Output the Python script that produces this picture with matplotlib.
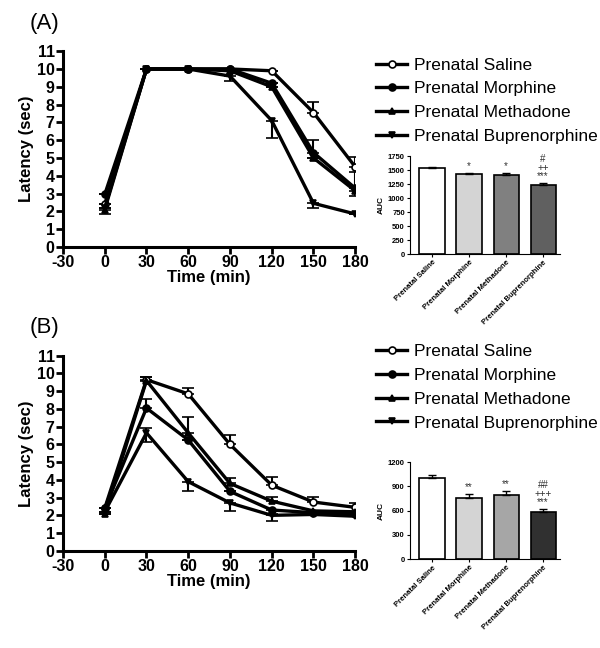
import matplotlib
matplotlib.use("Agg")
import matplotlib.pyplot as plt
import numpy as np

plt.rcParams['font.family'] = ['Liberation Sans', 'DejaVu Sans']
plt.rcParams['axes.unicode_minus'] = False

# time points (min)
times = [0, 30, 60, 90, 120, 150, 180]
groups = ['Prenatal Saline', 'Prenatal Morphine', 'Prenatal Methadone', 'Prenatal Buprenorphine']

# Panel A latency (sec)
a_saline = [2.4, 10.0, 10.0, 10.0, 9.9, 7.55, 4.5]
a_morphine = [2.95, 10.0, 10.0, 10.0, 9.2, 5.3, 3.3]
a_methadone = [2.1, 10.0, 10.0, 9.9, 9.0, 5.0, 3.15]
a_bup = [2.2, 10.0, 10.0, 9.6, 7.1, 2.45, 1.85]
# error bars (up / down)
a_up = {'Prenatal Saline': [0, 0, 0, 0, 0, 0.6, 0.55],
        'Prenatal Morphine': [0, 0, 0, 0, 0, 0.7, 0],
        'Prenatal Methadone': [0, 0, 0, 0, 0, 0, 1.05],
        'Prenatal Buprenorphine': [0, 0, 0, 0, 0, 0, 0]}
a_dn = {'Prenatal Saline': [0, 0, 0, 0, 0, 0, 0],
        'Prenatal Morphine': [0, 0, 0, 0, 0, 0, 0.45],
        'Prenatal Methadone': [0.25, 0, 0, 0, 0, 0, 0],
        'Prenatal Buprenorphine': [0, 0, 0, 0.3, 1.0, 0.25, 0]}

# Panel B latency (sec)
b_saline = [2.4, 9.65, 8.85, 6.0, 3.7, 2.75, 2.45]
b_morphine = [2.4, 8.05, 6.25, 3.35, 2.3, 2.15, 2.1]
b_methadone = [2.1, 9.6, 6.65, 3.8, 2.8, 2.25, 2.2]
b_bup = [2.2, 6.65, 3.9, 2.7, 2.0, 2.05, 1.95]
b_up = {'Prenatal Saline': [0, 0.15, 0.35, 0.55, 0.45, 0.3, 0.25],
        'Prenatal Morphine': [0, 0.5, 0, 0, 0, 0, 0],
        'Prenatal Methadone': [0, 0.2, 0.9, 0.3, 0.25, 0, 0],
        'Prenatal Buprenorphine': [0, 0.3, 0, 0, 0, 0, 0]}
b_dn = {'Prenatal Saline': [0, 0, 0, 0, 0, 0, 0],
        'Prenatal Morphine': [0, 0, 0, 0, 0.25, 0, 0],
        'Prenatal Methadone': [0, 0, 0, 0, 0, 0, 0],
        'Prenatal Buprenorphine': [0, 0.5, 0.5, 0.45, 0.3, 0, 0]}

# AUC insets
a_auc = [1530, 1430, 1405, 1235]
a_auc_err = [20, 25, 50, 35]
a_auc_sig = ['', '*', '*', '#\n++\n***']
b_auc = [1000, 760, 795, 585]
b_auc_err = [40, 50, 50, 35]
b_auc_sig = ['', '**', '**', '##\n+++\n***']

a_bar_colors = ['white', '#d4d4d4', '#808080', '#606060']
b_bar_colors = ['white', '#d4d4d4', '#a6a6a6', '#303030']

markers = {'Prenatal Saline': ('o', 'white'),
           'Prenatal Morphine': ('o', 'black'),
           'Prenatal Methadone': ('^', 'black'),
           'Prenatal Buprenorphine': ('v', 'black')}

fig = plt.figure(figsize=(6.0, 6.48), dpi=100)


def line_panel(rect, series, up, dn, label, legend_y):
    ax = fig.add_axes(rect)
    for name, vals in zip(groups, series):
        m, fc = markers[name]
        ax.errorbar(times, vals, yerr=[dn[name], up[name]], color='black',
                    lw=2.4, marker=m, markersize=5, mfc=fc, mec='black', mew=1.2,
                    capsize=4, capthick=1.5, elinewidth=1.5, label=name)
    ax.set_xlim(-30, 180)
    ax.set_ylim(0, 11)
    ax.set_xticks(range(-30, 181, 30))
    ax.set_yticks(range(0, 12))
    for s in ['top', 'right']:
        ax.spines[s].set_visible(False)
    for s in ['left', 'bottom']:
        ax.spines[s].set_linewidth(2.2)
    ax.tick_params(width=2, length=5, labelsize=11.5, pad=1)
    for t in ax.get_xticklabels() + ax.get_yticklabels():
        t.set_fontweight('bold')
    ax.set_xlabel('Time (min)', fontsize=12, fontweight='bold', labelpad=0)
    ax.set_ylabel('Latency (sec)', fontsize=12, fontweight='bold', labelpad=2)
    fig.text(0.05, rect[1] + rect[3] + 0.035, label, fontsize=16)
    handles, labels = ax.get_legend_handles_labels()
    handles = [h[0] for h in handles]
    fig.legend(handles, labels, loc='upper left', bbox_to_anchor=(0.615, legend_y),
               frameon=False, fontsize=12.5, handlelength=1.8, handletextpad=0.4,
               labelspacing=0.5, borderaxespad=0)
    return ax


def bar_panel(rect, vals, errs, sig, colors, ymax, step):
    ax = fig.add_axes(rect)
    x = np.arange(len(groups))
    ax.bar(x, vals, width=0.68, color=colors, edgecolor='black', linewidth=1.2)
    ax.errorbar(x, vals, yerr=[np.zeros(len(vals)), errs], fmt='none', ecolor='black',
                elinewidth=1, capsize=3, capthick=1)
    for xi, v, e, s in zip(x, vals, errs, sig):
        if s:
            ax.text(xi, v + e + ymax * 0.015, s, ha='center', va='bottom',
                    fontsize=7, linespacing=0.85, color='#333333')
    ax.set_xlim(-0.6, 3.45)
    ax.set_ylim(0, ymax)
    ax.set_yticks(np.arange(0, ymax + 1, step))
    ax.set_xticks(x)
    ax.set_xticklabels(groups, rotation=45, ha='right', rotation_mode='anchor',
                       fontsize=5, fontweight='bold')
    for s in ['top', 'right']:
        ax.spines[s].set_visible(False)
    ax.tick_params(width=0.8, length=2.5, labelsize=5.5, pad=1)
    for t in ax.get_yticklabels():
        t.set_fontweight('bold')
    ax.set_ylabel('AUC', fontsize=6, fontweight='bold', labelpad=2)
    return ax


line_panel([0.105, 0.619, 0.487, 0.302], [a_saline, a_morphine, a_methadone, a_bup],
           a_up, a_dn, '(A)', 0.922)
bar_panel([0.683, 0.608, 0.25, 0.151], a_auc, a_auc_err, a_auc_sig, a_bar_colors, 1750, 250)

line_panel([0.105, 0.150, 0.487, 0.301], [b_saline, b_morphine, b_methadone, b_bup],
           b_up, b_dn, '(B)', 0.480)
bar_panel([0.683, 0.137, 0.25, 0.150], b_auc, b_auc_err, b_auc_sig, b_bar_colors, 1200, 300)

fig.savefig('out.png', dpi=100)
